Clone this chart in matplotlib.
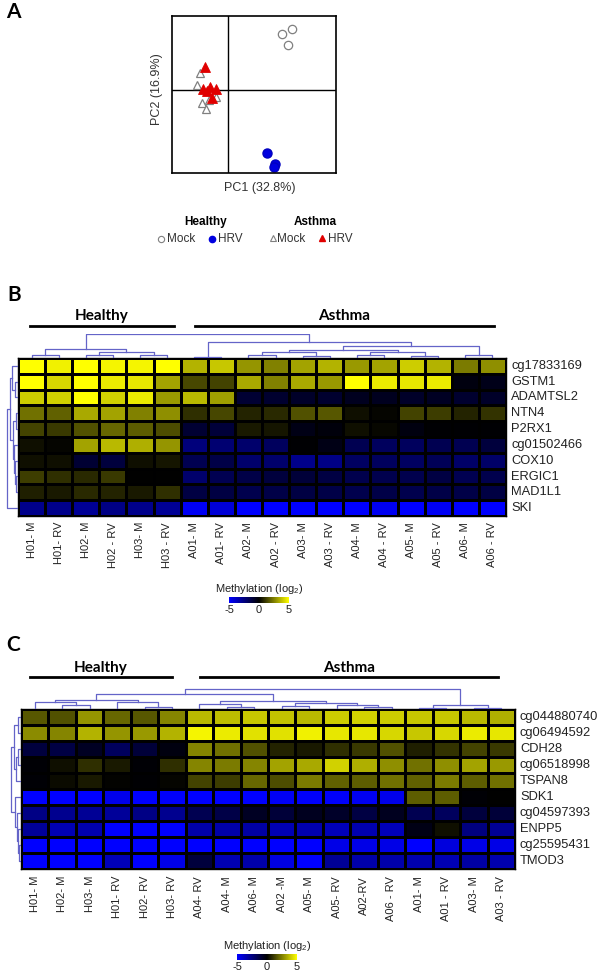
import numpy as np
import matplotlib
matplotlib.use('Agg')
import matplotlib.pyplot as plt
from matplotlib.colors import LinearSegmentedColormap

W, H = 600, 971          # picture size in pixels
plt.rcParams['font.family'] = ['Liberation Sans', 'DejaVu Sans']
plt.rcParams['mathtext.fontset'] = 'custom'
plt.rcParams['mathtext.rm'] = 'Liberation Sans'

# ---------------- panel A: PCA scores
hm_pc1 = [5.4, 6.4, 6.0]            # healthy mock
hm_pc2 = [5.6, 6.1, 4.5]
hr_pc1 = [3.9, 4.7, 4.6]            # healthy HRV
hr_pc2 = [-6.3, -7.4, -7.7]
am_pc1 = [-2.8, -3.1, -2.6, -2.2, -1.9, -1.2]   # asthma mock
am_pc2 = [1.7, 0.5, -1.3, -1.9, -1.0, -0.7]
ar_pc1 = [-2.3, -2.5, -2.1, -1.8, -1.2, -1.6]   # asthma HRV
ar_pc2 = [2.3, 0.1, -0.1, 0.3, 0.1, -0.8]

# ---------------- panel B
b_rows = ['cg17833169', 'GSTM1', 'ADAMTSL2', 'NTN4', 'P2RX1', 'cg01502466',
          'COX10', 'ERGIC1', 'MAD1L1', 'SKI']
b_cols = ['H01- M', 'H01- RV', 'H02- M', 'H02 - RV', 'H03- M', 'H03 - RV',
          'A01- M', 'A01- RV', 'A02- M', 'A02 - RV', 'A03- M', 'A03 - RV',
          'A04- M', 'A04 - RV', 'A05- M', 'A05 - RV', 'A06- M', 'A06 - RV']
b_vals = [
    [5.0, 4.7, 5.0, 4.8, 4.8, 5.0, 3.5, 3.9, 2.9, 2.5, 3.2, 3.5, 3.0, 3.2, 4.0, 3.5, 2.4, 2.8],
    [5.0, 4.2, 5.0, 4.6, 4.5, 3.2, 1.4, 1.3, 3.3, 2.5, 3.3, 3.0, 5.0, 4.6, 4.5, 4.6, -0.3, -0.5],
    [4.0, 4.1, 5.0, 4.1, 4.6, 3.0, 3.6, 3.1, -1.0, -0.9, -0.8, -0.9, -0.6, -0.6, -0.8, -0.7, -0.9, -0.8],
    [2.2, 1.9, 3.3, 3.2, 2.5, 2.8, 0.9, 1.4, 0.7, 0.8, 1.6, 1.7, 0.3, 0.1, 1.3, 1.2, 0.7, 1.0],
    [1.3, 1.1, 1.6, 2.0, 1.8, 1.5, -1.0, -1.1, 0.5, 0.4, -0.4, -0.2, 0.3, 0.15, -0.3, -0.05, -0.05, -0.05],
    [0.3, 0.1, 3.2, 3.6, 3.4, 2.9, -2.4, -2.2, -2.1, -1.8, -0.05, -0.4, -1.6, -1.8, -1.8, -1.6, -1.6, -1.2],
    [0.3, 0.3, -1.0, -1.2, 0.3, 0.4, -1.6, -1.4, -2.1, -2.1, -2.7, -2.6, -1.9, -1.8, -1.9, -1.7, -2.0, -2.0],
    [1.2, 0.9, 0.8, 1.1, 0.0, 0.0, -2.1, -1.6, -1.4, -1.2, -1.1, -1.3, -1.5, -1.5, -1.5, -1.3, -1.6, -1.5],
    [0.6, 0.5, 0.8, 0.7, 0.5, 0.9, -1.3, -1.3, -1.5, -1.4, -1.3, -1.4, -1.5, -1.4, -1.5, -1.4, -1.4, -1.3],
    [-2.7, -2.7, -2.9, -2.6, -2.7, -2.9, -4.8, -4.2, -5.0, -5.0, -5.0, -5.0, -5.0, -4.7, -5.0, -4.8, -5.0, -5.0],
]
# dendrogram merges: (child a, child b, height), scipy style numbering
b_col_tree = [(0, 1, 0.11), (2, 3, 0.14), (4, 5, 0.11), (19, 20, 0.25), (18, 21, 0.36),
              (6, 7, 0.06), (8, 9, 0.12), (10, 11, 0.10), (12, 13, 0.12), (14, 15, 0.10),
              (16, 17, 0.12), (24, 25, 0.23), (26, 27, 0.25), (29, 30, 0.35), (31, 28, 0.48),
              (23, 32, 0.65), (22, 33, 0.98)]
b_row_tree = [(1, 2, 0.23), (0, 10, 0.46), (3, 4, 0.19), (7, 8, 0.15), (6, 13, 0.23),
              (5, 14, 0.31), (12, 15, 0.42), (11, 16, 0.62), (17, 9, 0.88)]

# ---------------- panel C
c_rows = ['cg044880740', 'cg06494592', 'CDH28', 'cg06518998', 'TSPAN8', 'SDK1',
          'cg04597393', 'ENPP5', 'cg25595431', 'TMOD3']
c_cols = ['H01- M', 'H02- M', 'H03- M', 'H01- RV', 'H02- RV', 'H03- RV',
          'A04- RV', 'A04- M', 'A06- M', 'A02 -M', 'A05- M', 'A05- RV',
          'A02-RV', 'A06 - RV', 'A01- M', 'A01 - RV', 'A03- M', 'A03 - RV']
c_vals = [
    [1.7, 1.6, 2.9, 2.0, 1.7, 2.6, 3.6, 3.7, 3.9, 3.8, 3.6, 4.0, 4.1, 4.0, 3.9, 3.9, 3.6, 3.4],
    [2.7, 2.6, 3.5, 2.9, 3.0, 3.5, 4.8, 4.6, 4.4, 4.4, 4.7, 4.5, 4.5, 4.2, 3.9, 4.2, 4.6, 4.5],
    [-1.2, -1.3, -0.7, -1.8, -1.1, -0.3, 2.6, 2.2, 1.6, 0.7, 0.5, 0.9, 1.1, 1.6, 0.6, 1.0, 1.3, 1.1],
    [-0.1, 0.3, 0.9, 0.5, -0.1, 0.9, 2.6, 2.4, 2.6, 3.2, 3.3, 4.1, 3.4, 2.8, 2.2, 2.8, 3.2, 3.0],
    [-0.1, 0.2, 0.5, 0.05, -0.05, 0.1, 1.3, 1.2, 2.0, 1.5, 2.4, 1.9, 1.8, 2.2, 1.9, 2.4, 1.8, 2.2],
    [-5.0, -5.0, -5.0, -4.6, -5.0, -4.9, -5.0, -5.0, -5.0, -4.8, -4.9, -4.9, -4.7, -4.6, 1.8, 1.8, -0.1, 0.0],
    [-2.6, -2.8, -2.9, -3.0, -2.6, -2.8, -1.6, -1.4, -0.7, -1.1, -0.6, -0.8, -1.3, -0.6, -1.6, -1.8, -1.2, -1.1],
    [-3.0, -3.5, -3.4, -5.0, -5.0, -5.0, -3.3, -3.3, -3.2, -3.5, -3.4, -3.6, -3.4, -3.6, -0.4, 0.3, -2.5, -2.9],
    [-5.0, -5.0, -5.0, -5.0, -5.0, -5.0, -5.0, -5.0, -5.0, -5.0, -5.0, -4.5, -4.5, -4.5, -5.0, -4.3, -4.5, -4.5],
    [-5.0, -5.0, -5.0, -3.6, -5.0, -4.5, -1.2, -3.5, -3.3, -4.4, -5.0, -2.9, -3.3, -3.3, -3.4, -3.5, -3.2, -3.4],
]
c_col_tree = [(1, 2, 0.18), (0, 18, 0.34), (4, 5, 0.11), (3, 20, 0.32), (19, 21, 0.45),
              (7, 8, 0.09), (6, 23, 0.23), (9, 10, 0.14), (12, 13, 0.09), (11, 26, 0.20),
              (25, 27, 0.27), (24, 28, 0.39), (22, 29, 0.73), (14, 15, 0.07), (16, 17, 0.07),
              (31, 32, 0.18), (30, 33, 0.95)]
c_row_tree = [(0, 1, 0.25), (2, 3, 0.29), (11, 4, 0.42), (10, 12, 0.58), (8, 9, 0.17),
              (7, 14, 0.25), (6, 15, 0.33), (5, 16, 0.54), (13, 17, 0.83)]

cmap = LinearSegmentedColormap.from_list('blue_black_yellow', [(0, 0, 1), (0, 0, 0), (1, 1, 0)])
tree_col = '#6464c8'

fig = plt.figure(figsize=(W / 100, H / 100), dpi=100)


def px_axes(x0, y0, x1, y1):
    # axes from a pixel box (top-left origin)
    return fig.add_axes([x0 / W, 1 - y1 / H, (x1 - x0) / W, (y1 - y0) / H])


# overlay in pixel units for texts and header bars
ov = fig.add_axes([0, 0, 1, 1], zorder=5)
ov.set_xlim(0, W)
ov.set_ylim(H, 0)
ov.axis('off')
ov.patch.set_alpha(0)


def draw_tree(ax, tree, n, top):
    pos = {i: i + 0.5 for i in range(n)}
    hgt = {i: 0.0 for i in range(n)}
    for k, (a, b, h) in enumerate(tree):
        xs = [pos[a], pos[a], pos[b], pos[b]]
        ys = [hgt[a], h, h, hgt[b]]
        if top:
            ax.plot(xs, ys, color=tree_col, lw=0.9)
        else:
            ax.plot(ys, xs, color=tree_col, lw=0.9)
        pos[n + k] = (pos[a] + pos[b]) / 2
        hgt[n + k] = h
    if top:
        ax.set_xlim(0, n)
        ax.set_ylim(0, 1)
    else:
        ax.set_ylim(n, 0)
        ax.set_xlim(1, 0)
    ax.axis('off')


def heat_panel(vals, rows, cols, ctree, rtree, box, dtop, dleft, lab_gap):
    x0, y0, x1, y1 = box
    ax = px_axes(x0, y0, x1, y1)
    ax.pcolormesh(np.array(vals), cmap=cmap, vmin=-5, vmax=5,
                  edgecolors='black', linewidth=0.9)
    ax.set_xlim(0, len(cols))
    ax.set_ylim(len(rows), 0)
    ax.set_xticks([])
    ax.set_yticks([])
    for s in ax.spines.values():
        s.set_linewidth(1.0)
    draw_tree(px_axes(x0, dtop, x1, y0), ctree, len(cols), True)
    draw_tree(px_axes(dleft, y0, x0, y1), rtree, len(rows), False)
    cw = (x1 - x0) / len(cols)
    rh = (y1 - y0) / len(rows)
    for i, r in enumerate(rows):
        ov.text(x1 + 5, y0 + rh * (i + 0.5), r, fontsize=9.3, color='#222222',
                ha='left', va='center')
    for j, c in enumerate(cols):
        ov.text(x0 + cw * (j + 0.5), y1 + lab_gap, c, fontsize=8, color='#222222',
                rotation=90, ha='center', va='top')


def colour_key(x0, y0, x1, y1):
    ov.text((x0 + x1) / 2, y0 - 8, 'Methylation (log$_2$)', fontsize=8,
            color='#222222', ha='center', va='center')
    ax = px_axes(x0, y0, x1, y1)
    ax.imshow(np.linspace(-5, 5, 256)[None, :], cmap=cmap, aspect='auto',
              extent=[-5, 5, 0, 1])
    ax.set_yticks([])
    ax.set_xticks([-5, 0, 5])
    ax.set_xticklabels(['-5', '0', '5'], fontsize=8, color='#222222')
    ax.tick_params(length=0, pad=1.5)
    for s in ax.spines.values():
        s.set_visible(False)


def group_header(y_txt, y_bar, h_span, a_span):
    ov.text(sum(h_span) / 2, y_txt, 'Healthy', fontsize=11, fontweight='bold',
            family='Lato', ha='center', va='center')
    ov.text(sum(a_span) / 2, y_txt, 'Asthma', fontsize=11, fontweight='bold',
            family='Lato', ha='center', va='center')
    ov.plot(h_span, [y_bar, y_bar], color='black', lw=2)
    ov.plot(a_span, [y_bar, y_bar], color='black', lw=2)


# ---------------- panel A
pa = px_axes(172, 16, 336, 173)
pa.set_xlim(-5.6, 10.8)
pa.set_ylim(-8.3, 7.4)
pa.axhline(0, color='black', lw=1)
pa.axvline(0, color='black', lw=1)
pa.plot(hm_pc1, hm_pc2, 'o', mfc='white', mec='#808080', ms=6, mew=0.9)
pa.plot(hr_pc1, hr_pc2, 'o', mfc='#0000e0', mec='#0000c0', ms=6.5)
pa.plot(am_pc1, am_pc2, '^', mfc='white', mec='#808080', ms=6, mew=0.9)
pa.plot(ar_pc1, ar_pc2, '^', mfc='#e00000', mec='#e00000', ms=6.5, mew=0.6)
pa.set_xticks([])
pa.set_yticks([])
for s in pa.spines.values():
    s.set_linewidth(1.2)
ov.text(260, 188, 'PC1 (32.8%)', fontsize=9, color='#333333', ha='center', va='center')
ov.text(157, 89, 'PC2 (16.9%)', fontsize=9, color='#333333', ha='center', va='center',
        rotation=90)

# legend of panel A
ov.text(206, 222, 'Healthy', fontsize=8.5, fontweight='bold', ha='center', va='center')
ov.text(315, 222, 'Asthma', fontsize=8.5, fontweight='bold', ha='center', va='center')
ov.plot([161], [239], 'o', mfc='white', mec='#808080', ms=4.5, mew=0.8)
ov.text(167, 239, 'Mock', fontsize=8.5, color='#333333', ha='left', va='center')
ov.plot([212], [239], 'o', mfc='#0000e0', mec='#0000e0', ms=4.5)
ov.text(218, 239, 'HRV', fontsize=8.5, color='#333333', ha='left', va='center')
ov.plot([273], [238.5], '^', mfc='white', mec='#808080', ms=4.5, mew=0.8)
ov.text(277, 239, 'Mock', fontsize=8.5, color='#333333', ha='left', va='center')
ov.plot([322], [238.5], '^', mfc='#e00000', mec='#e00000', ms=4.5)
ov.text(328, 239, 'HRV', fontsize=8.5, color='#333333', ha='left', va='center')

# ---------------- panel B
group_header(316, 326, [30, 174], [195, 494])
heat_panel(b_vals, b_rows, b_cols, b_col_tree, b_row_tree,
           (18, 358, 506, 516), 334, 5, 6)
colour_key(229, 597, 289, 603)

# ---------------- panel C
group_header(668, 677, [30, 172], [200, 498])
heat_panel(c_vals, c_rows, c_cols, c_col_tree, c_row_tree,
           (21, 709, 515, 869), 688, 9, 7)
colour_key(237, 954, 297, 960)

# panel letters
for lab, x, y in [('A', 13, 12), ('B', 14, 295), ('C', 13, 645)]:
    ov.text(x, y, lab, fontsize=15, fontweight='bold', family='Lato',
            ha='center', va='center')

fig.savefig('out.png', dpi=100)
